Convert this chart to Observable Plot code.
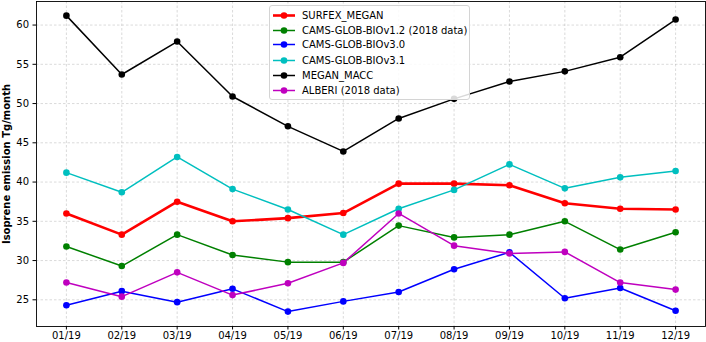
<!DOCTYPE html>
<html><head><meta charset="utf-8">
<script src="https://cdn.jsdelivr.net/npm/d3@7"></script>
<script src="https://cdn.jsdelivr.net/npm/@observablehq/plot@0.6"></script>
<style>
body{margin:0;background:#fff;}
#wrap{position:relative;width:706px;height:342px;font-family:"DejaVu Sans",sans-serif;}
#legend{position:absolute;left:269px;top:5px;width:201px;height:95px;box-sizing:border-box;border:1px solid #d4d4d4;border-radius:3px;background:rgba(255,255,255,0.85);font-size:10px;color:#000;}
.row{position:absolute;left:0;height:15px;display:flex;align-items:center;white-space:nowrap;}
.row svg{display:block;}
</style></head>
<body><div id="wrap"></div>
<script>
const months = ["01/19","02/19","03/19","04/19","05/19","06/19","07/19","08/19","09/19","10/19","11/19","12/19"];
const seriesNames = ["SURFEX_MEGAN","CAMS-GLOB-BIOv1.2 (2018 data)","CAMS-GLOB-BIOv3.0","CAMS-GLOB-BIOv3.1","MEGAN_MACC","ALBERI (2018 data)"];
const seriesColors = ["#ff0000","#008000","#0000ff","#00bfbf","#000000","#bf00bf"];
const surfexMegan = [36.0,33.3,37.5,35.0,35.4,36.05,39.8,39.8,39.6,37.3,36.6,36.5];
const camsV12 = [31.8,29.3,33.3,30.7,29.8,29.8,34.45,32.95,33.3,35.0,31.4,33.6];
const camsV30 = [24.3,26.1,24.7,26.4,23.5,24.8,26.0,28.9,31.05,25.2,26.5,23.6];
const camsV31 = [41.2,38.7,43.2,39.1,36.5,33.3,36.6,39.0,42.25,39.2,40.6,41.4];
const meganMacc = [61.2,53.7,57.9,50.9,47.1,43.9,48.1,50.6,52.8,54.1,55.9,60.7];
const alberi = [27.2,25.4,28.5,25.6,27.1,29.7,36.0,31.9,30.9,31.1,27.2,26.3];
const yTicks = [25,30,35,40,45,50,55,60];
const yLabel = "Isoprene emission Tg/month";

const allSeries = [surfexMegan, camsV12, camsV30, camsV31, meganMacc, alberi];
const widths = [2.6,1.5,1.5,1.5,1.5,1.5];

const marks = [
  Plot.gridX(months, {stroke:"#b0b0b0", strokeOpacity:0.6, strokeDasharray:"2.5,2", strokeWidth:0.8}),
  Plot.gridY(yTicks, {stroke:"#b0b0b0", strokeOpacity:0.6, strokeDasharray:"2.5,2", strokeWidth:0.8}),
];
allSeries.forEach((vals, k) => {
  const data = months.map((m, i) => ({month: m, value: vals[i]}));
  marks.push(Plot.line(data, {x:"month", y:"value", stroke: seriesColors[k], strokeWidth: widths[k]}));
  marks.push(Plot.dot(data, {x:"month", y:"value", fill: seriesColors[k], r: 3.3}));
});
marks.push(Plot.frame({stroke:"#000", strokeWidth:0.9}));
marks.push(Plot.axisX(months, {tickSize:3.5, tickPadding:2, fontSize:10, label:null}));
marks.push(Plot.axisY(yTicks, {tickSize:3.5, tickPadding:4, fontSize:10, label:null}));
marks.push(Plot.text([yLabel], {text: d=>d, frameAnchor:"left", textAnchor:"middle", lineAnchor:"middle", rotate:-90, dx:-30, fontWeight:"bold", fontSize:10}));

const chart = Plot.plot({
  width:706, height:342,
  marginLeft:36, marginRight:1, marginTop:1, marginBottom:16,
  style:{fontFamily:"DejaVu Sans, sans-serif", fontSize:"10px", color:"#000", background:"#fff"},
  x:{type:"point", domain: months, padding:0.54, round:false},
  y:{domain:[21.6,63.0]},
  marks
});
const wrap = document.getElementById("wrap");
wrap.appendChild(chart);

const legend = document.createElement("div");
legend.id = "legend";
const centers = [9, 24, 38.7, 54, 69.5, 84.3];
seriesNames.forEach((name, k) => {
  const row = document.createElement("div");
  row.className = "row";
  row.style.top = (centers[k] - 7.5) + "px";
  row.innerHTML = `<svg width="32" height="15"><line x1="3" x2="25" y1="7.5" y2="7.5" stroke="${seriesColors[k]}" stroke-width="${widths[k]}"/><circle cx="14" cy="7.5" r="3.3" fill="${seriesColors[k]}"/></svg><span>${name}</span>`;
  legend.appendChild(row);
});
wrap.appendChild(legend);
</script>
</body></html>
